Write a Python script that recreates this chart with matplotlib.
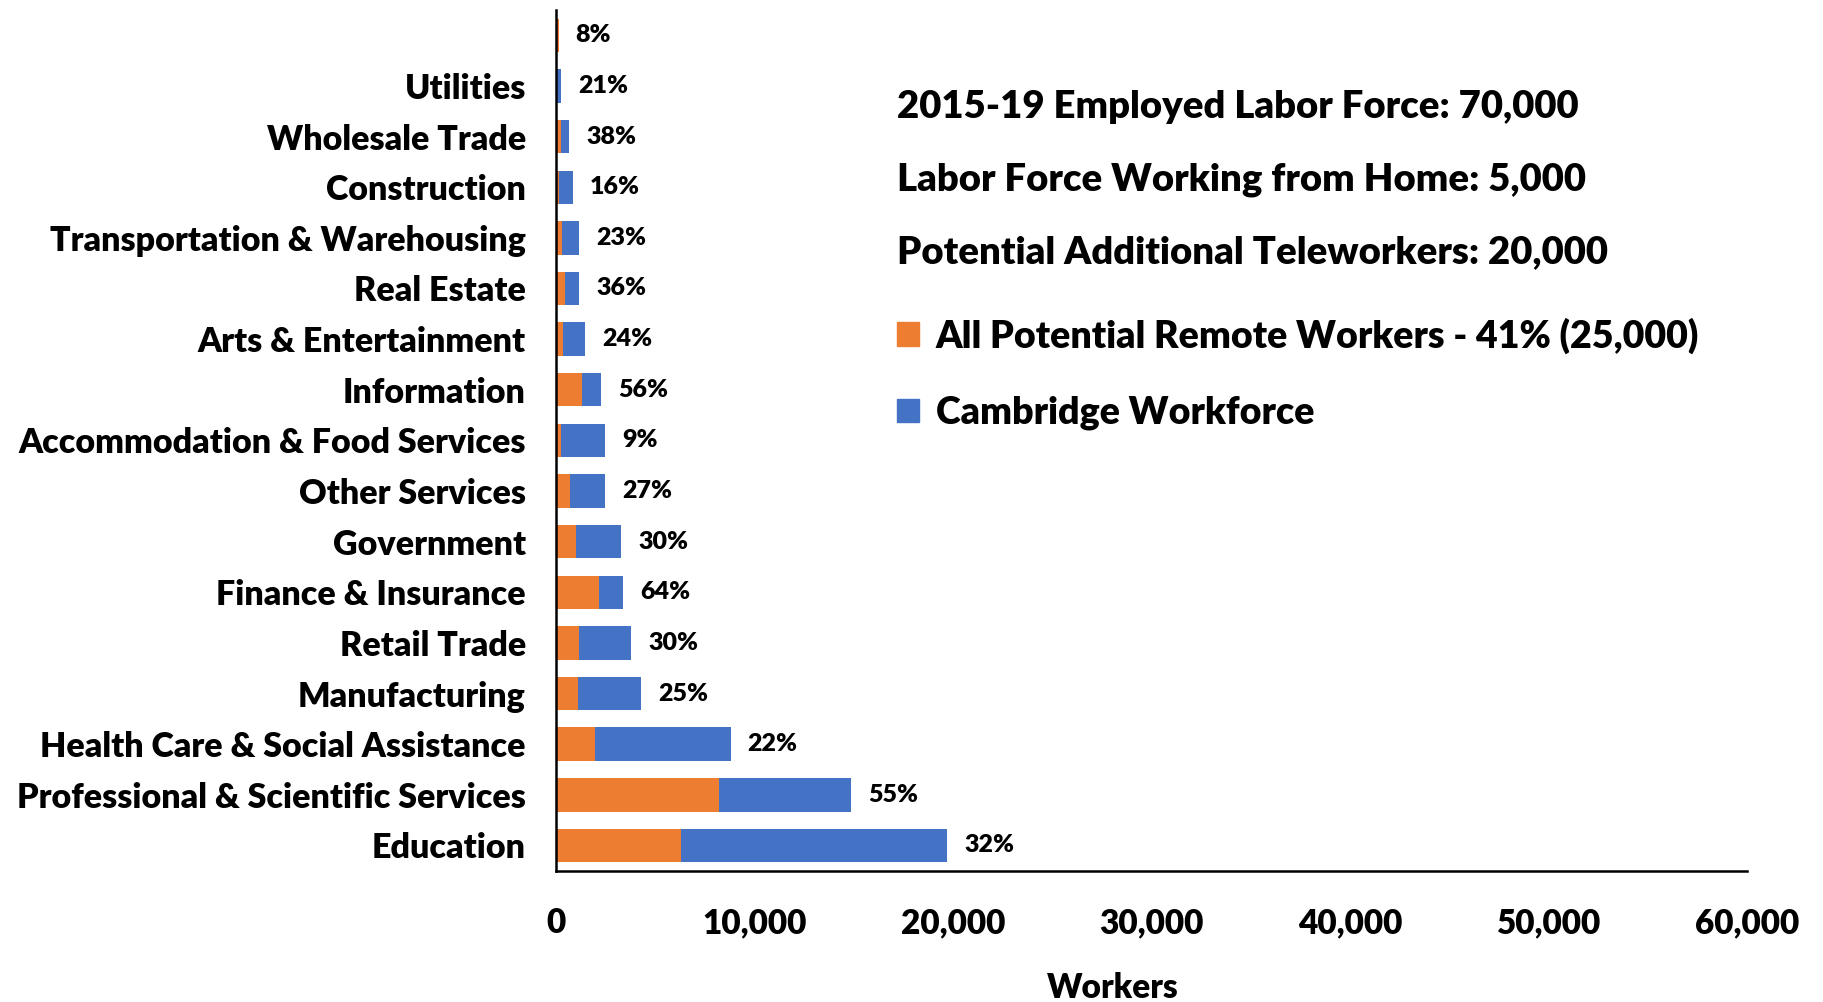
import matplotlib.pyplot as plt
from matplotlib.patches import Patch

plt.rcParams['font.family'] = ['Lato', 'DejaVu Sans']
plt.rcParams['font.weight'] = 'heavy'

# bottom to top
categories = ['Education', 'Professional & Scientific Services', 'Health Care & Social Assistance',
              'Manufacturing', 'Retail Trade', 'Finance & Insurance', 'Government', 'Other Services',
              'Accommodation & Food Services', 'Information', 'Arts & Entertainment', 'Real Estate',
              'Transportation & Warehousing', 'Construction', 'Wholesale Trade', 'Utilities', '']
workforce = [19700, 14850, 8800, 4280, 3780, 3380, 3280, 2470, 2470, 2270, 1460, 1160,
             1160, 860, 660, 250, 130]
remote = [6300, 8200, 1950, 1100, 1150, 2170, 1000, 700, 230, 1270, 350, 420,
          270, 140, 250, 55, 110]
pct_labels = ['32%', '55%', '22%', '25%', '30%', '64%', '30%', '27%', '9%', '56%', '24%', '36%',
              '23%', '16%', '38%', '21%', '8%']

info_lines = ['2015-19 Employed Labor Force: 70,000',
              'Labor Force Working from Home: 5,000',
              'Potential Additional Teleworkers: 20,000']

blue = '#4472C4'
orange = '#ED7D31'
W = 'heavy'

fig = plt.figure(figsize=(18.24, 10.02), dpi=100)
ax = fig.add_axes([0.305, 0.131, 0.653, 0.859])

y = list(range(len(categories)))
ax.barh(y, workforce, height=0.66, color=blue)
ax.barh(y, remote, height=0.66, color=orange)

for yi, w, lab in zip(y, workforce, pct_labels):
    ax.annotate(lab, (w, yi), xytext=(12, 0), textcoords='offset points',
                va='center', ha='left', fontsize=18, fontweight=W)

ax.set_xlim(0, 60000)
ax.set_ylim(-0.5, len(categories) - 0.5)
ax.set_yticks(y)
ax.set_yticklabels(categories, fontsize=24.5, fontweight=W)
ax.set_xticks(range(0, 60001, 10000))
ax.set_xticklabels(['0'] + [f'{v:,}' for v in range(10000, 60001, 10000)],
                   fontsize=24, fontweight=W)
ax.tick_params(axis='y', length=0, pad=22)
ax.tick_params(axis='x', length=0, pad=26)
ax.set_xlabel('Workers', fontsize=24, fontweight=W)
ax.xaxis.set_label_coords(0.467, -0.118)

for s in ['top', 'right']:
    ax.spines[s].set_visible(False)
ax.spines['left'].set_linewidth(1.8)
ax.spines['bottom'].set_linewidth(1.8)

for i, t in enumerate(info_lines):
    fig.text(0.492, 0.893 - i * 0.0725, t, fontsize=27.5, fontweight=W, va='center')

handles = [Patch(color=orange), Patch(color=blue)]
fig.legend(handles, ['All Potential Remote Workers - 41% (25,000)', 'Cambridge Workforce'],
           loc='upper left', bbox_to_anchor=(0.473, 0.717), frameon=False,
           prop={'size': 27, 'weight': W}, handlelength=0.6, handleheight=0.6,
           handletextpad=0.45, labelspacing=1.12)

fig.savefig('out.png', dpi=100)
